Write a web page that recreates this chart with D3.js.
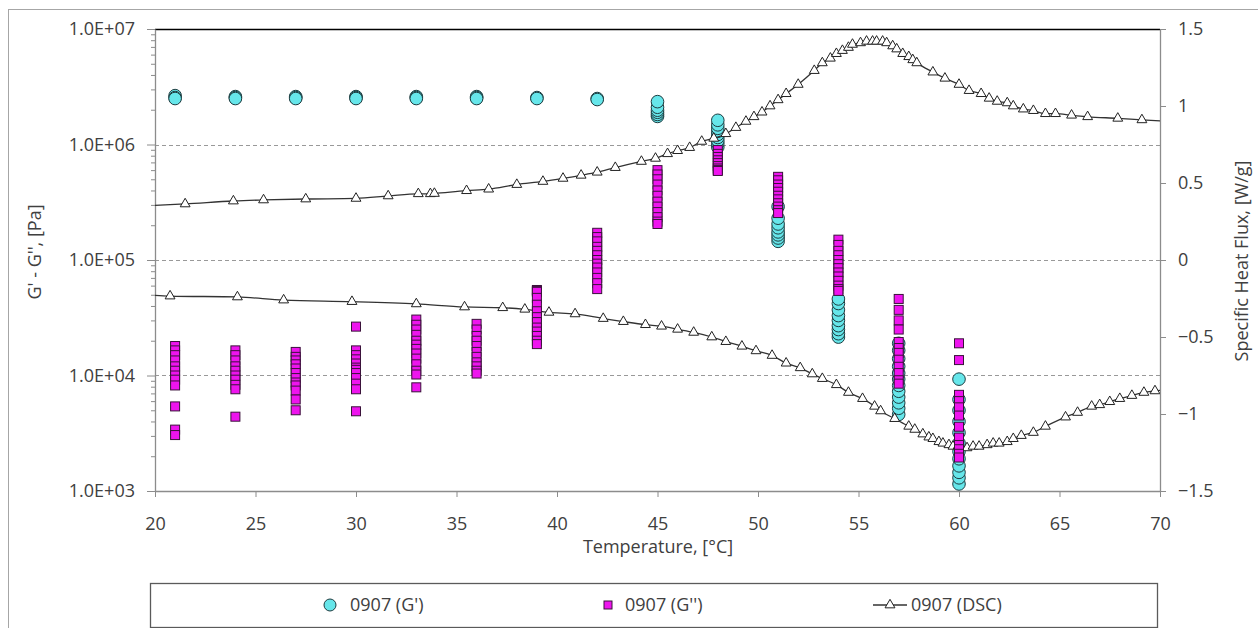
<!DOCTYPE html>
<html>
<head>
<meta charset="utf-8">
<script src="https://cdn.jsdelivr.net/npm/d3@7"></script>
<style>
  html, body { margin:0; padding:0; background:#fff; }
  svg { display:block; font-family:'Open Sans', sans-serif; }
</style>
</head>
<body>
<svg id="chart" width="1258" height="628"></svg>
<script>
/* ---------- data ---------- */
const rheoTemps = [21, 24, 27, 30, 33, 36, 39, 42, 45, 48, 51, 54, 57, 60];

// G' (Pa) per temperature, in drawing order
const gPrime = [
  [2.65e6, 2.55e6, 2.5e6],
  [2.6e6, 2.55e6, 2.5e6],
  [2.6e6, 2.55e6, 2.5e6],
  [2.6e6, 2.55e6, 2.5e6],
  [2.6e6, 2.55e6, 2.5e6],
  [2.6e6, 2.55e6, 2.5e6],
  [2.55e6, 2.5e6],
  [2.5e6, 2.45e6],
  [1.75e6, 1.82e6, 1.9e6, 1.98e6, 2.1e6, 2.35e6],
  [0.95e6, 1.02e6, 1.08e6, 1.15e6, 1.22e6, 1.3e6, 1.38e6, 1.48e6, 1.62e6],
  [2.9e5, 1.45e5, 1.55e5, 1.65e5, 1.75e5, 1.9e5, 2.05e5, 2.3e5],
  [2.15e4, 2.3e4, 2.5e4, 2.7e4, 3.0e4, 3.3e4, 3.7e4, 4.2e4, 4.6e4],
  [4.6e3, 5.2e3, 5.8e3, 6.5e3, 7.3e3, 8.2e3, 9.3e3, 1.05e4, 1.2e4, 1.4e4, 1.65e4, 1.9e4],
  [1.15e3, 1.3e3, 1.45e3, 1.65e3, 1.9e3, 2.2e3, 2.6e3, 3.2e3, 4.0e3, 5.0e3, 6.2e3, 9.3e3]
];

// G'' (Pa) per temperature
const gDouble = [
  [1.8e4, 1.65e4, 1.5e4, 1.35e4, 1.2e4, 1.1e4, 1.0e4, 9.2e3, 8.2e3, 5.4e3, 3.4e3, 3.05e3],
  [1.65e4, 1.5e4, 1.35e4, 1.2e4, 1.1e4, 1.0e4, 9.2e3, 8.3e3, 7.6e3, 4.4e3],
  [1.6e4, 1.45e4, 1.35e4, 1.25e4, 1.15e4, 1.05e4, 9.5e3, 8.7e3, 8.2e3, 7.4e3, 6.2e3, 5.0e3],
  [2.65e4, 1.65e4, 1.5e4, 1.38e4, 1.27e4, 1.17e4, 1.12e4, 1.05e4, 9.5e3, 8.5e3, 7.6e3, 4.9e3],
  [3.05e4, 2.75e4, 2.5e4, 2.25e4, 2.0e4, 1.85e4, 1.7e4, 1.55e4, 1.4e4, 1.25e4, 1.1e4, 1.02e4, 7.9e3],
  [2.8e4, 2.5e4, 2.2e4, 2.0e4, 1.8e4, 1.6e4, 1.45e4, 1.3e4, 1.2e4, 1.1e4, 1.04e4],
  [5.5e4, 5.4e4, 5.3e4, 4.7e4, 4.1e4, 3.6e4, 3.2e4, 2.9e4, 2.6e4, 2.4e4, 2.2e4, 2.0e4, 1.87e4],
  [1.72e5, 1.58e5, 1.45e5, 1.3e5, 1.2e5, 1.1e5, 1.0e5, 9.3e4, 8.6e4, 7.8e4, 7.0e4, 6.3e4, 5.6e4],
  [6.0e5, 5.5e5, 5.0e5, 4.5e5, 4.0e5, 3.6e5, 3.2e5, 2.9e5, 2.6e5, 2.35e5, 2.15e5, 2.05e5],
  [8.95e5, 8.3e5, 7.8e5, 7.3e5, 6.9e5, 6.5e5, 6.2e5, 6.0e5, 5.9e5],
  [5.25e5, 4.9e5, 4.5e5, 4.2e5, 3.9e5, 3.6e5, 3.35e5, 3.1e5, 2.9e5, 2.7e5, 2.55e5],
  [1.5e5, 1.35e5, 1.2e5, 1.1e5, 1.0e5, 9.2e4, 8.5e4, 7.8e4, 7.2e4, 6.6e4, 6.0e4, 5.6e4, 5.4e4],
  [4.6e4, 3.7e4, 3.0e4, 2.5e4, 1.95e4, 1.73e4, 1.57e4, 1.37e4, 1.19e4, 1.05e4, 9.1e3, 8.5e3],
  [1.9e4, 1.36e4, 6.8e3, 6.0e3, 5.3e3, 4.5e3, 3.6e3, 2.9e3, 2.5e3, 2.3e3, 2.1e3, 1.95e3]
];

// DSC upper trace (heating): temperature (°C) and heat flux (W/g)
const dscUpT = [19.5, 21.5, 23.9, 25.4, 27.5, 30.0, 31.6, 33.1, 33.7, 33.9, 35.5, 36.6, 38.0, 39.3, 40.3,
  41.2, 42.0, 42.9, 44.2, 44.9, 45.5, 46.0, 46.6, 47.2, 47.8, 48.4, 48.9, 49.4, 49.8, 50.2, 50.6, 51.0,
  51.4, 52.0, 52.8, 53.2, 53.6, 53.9, 54.2, 54.5, 54.7, 55.1, 55.4, 55.7, 55.9, 56.2, 56.4, 56.7, 56.9,
  57.2, 57.5, 57.7, 57.9, 58.7, 59.3, 60.0, 60.5, 61.1, 61.5, 61.9, 62.4, 62.7, 63.2, 63.7, 64.3, 64.8,
  65.6, 66.4, 67.9, 69.1, 70.5];
const dscUpV = [0.352, 0.364, 0.383, 0.39, 0.396, 0.40, 0.416, 0.43, 0.43, 0.432, 0.45, 0.46, 0.49, 0.51, 0.53,
  0.55, 0.57, 0.60, 0.64, 0.66, 0.69, 0.71, 0.73, 0.77, 0.79, 0.82, 0.86, 0.90, 0.93, 0.96, 1.00, 1.04,
  1.08, 1.14, 1.23, 1.28, 1.31, 1.34, 1.36, 1.38, 1.40, 1.41, 1.42, 1.42, 1.42, 1.42, 1.41, 1.39, 1.37,
  1.34, 1.32, 1.30, 1.28, 1.22, 1.18, 1.14, 1.10, 1.08, 1.05, 1.03, 1.02, 1.00, 0.98, 0.97, 0.95, 0.95,
  0.94, 0.93, 0.92, 0.91, 0.90];

// DSC lower trace (cooling)
const dscLoT = [19.5, 20.75, 24.1, 26.4, 29.8, 33.0, 35.4, 37.3, 38.4, 39.6, 40.9, 42.3, 43.3, 44.4, 45.2,
  46.0, 46.8, 47.7, 48.4, 49.2, 49.9, 50.7, 51.4, 52.1, 52.7, 53.2, 53.9, 54.5, 55.2, 55.8, 56.1, 56.8,
  57.5, 57.8, 58.2, 58.5, 58.7, 59.0, 59.2, 59.5, 59.7, 59.95, 60.4, 60.7, 61.0, 61.4, 61.7, 62.0, 62.4,
  62.7, 63.1, 63.7, 64.3, 65.3, 65.9, 66.6, 67.0, 67.5, 68.0, 68.6, 69.2, 69.75, 70.5];
const dscLoV = [-0.225, -0.234, -0.24, -0.26, -0.27, -0.285, -0.305, -0.31, -0.32, -0.34, -0.35, -0.38, -0.40, -0.42, -0.43,
  -0.45, -0.47, -0.50, -0.53, -0.56, -0.59, -0.62, -0.67, -0.70, -0.74, -0.77, -0.81, -0.86, -0.90, -0.95, -0.98, -1.03,
  -1.08, -1.10, -1.13, -1.15, -1.16, -1.18, -1.19, -1.20, -1.21, -1.21, -1.22, -1.21, -1.21, -1.20, -1.19, -1.19, -1.18,
  -1.16, -1.14, -1.12, -1.08, -1.02, -0.99, -0.95, -0.94, -0.92, -0.90, -0.88, -0.86, -0.85, -0.84];

const xTicks = [20, 25, 30, 35, 40, 45, 50, 55, 60, 65, 70];
const leftTicks = [1e3, 1e4, 1e5, 1e6, 1e7];
const leftTickLabels = ['1.0E+03', '1.0E+04', '1.0E+05', '1.0E+06', '1.0E+07'];
const gridValues = [1e4, 1e5, 1e6];
const rightTicks = [-1.5, -1, -0.5, 0, 0.5, 1, 1.5];
const seriesNames = ["0907 (G')", "0907 (G'')", "0907 (DSC)"];

/* ---------- layout ---------- */
const svg = d3.select('#chart');
const plot = { left:155, right:1160, top:29, bottom:491 };
const TEXT = '#404040', AXIS = '#8c8c8c';
const CYAN = '#66e6ea', MAGENTA = '#ee14ee';

const x  = d3.scaleLinear().domain([20, 70]).range([plot.left, plot.right]);
const yL = d3.scaleLog().domain([1e3, 1e7]).range([plot.bottom, plot.top]);
const yR = d3.scaleLinear().domain([-1.5, 1.5]).range([plot.bottom, plot.top]);

// outer chart frame (runs off the right/bottom edge like the source)
svg.append('rect').attr('x', 8.5).attr('y', 9.5).attr('width', 1300).attr('height', 700)
  .attr('fill', 'none').attr('stroke', '#a6a6a6');

svg.append('defs').append('clipPath').attr('id', 'plotclip')
  .append('rect').attr('x', plot.left).attr('y', plot.top)
  .attr('width', plot.right - plot.left).attr('height', plot.bottom - plot.top);

// gridlines
svg.append('g').selectAll('line').data(gridValues).join('line')
  .attr('x1', plot.left).attr('x2', plot.right)
  .attr('y1', d => Math.round(yL(d)) + 0.5).attr('y2', d => Math.round(yL(d)) + 0.5)
  .attr('stroke', '#999').attr('stroke-dasharray', '4,3');

// top border
svg.append('line').attr('x1', plot.left).attr('x2', plot.right)
  .attr('y1', plot.top + 0.5).attr('y2', plot.top + 0.5).attr('stroke', '#000').attr('stroke-width', 1.3);

/* ---------- axes ---------- */
function styleAxis(g){
  g.select('.domain').attr('stroke', AXIS).attr('stroke-width', 1.3);
  g.selectAll('.tick line').attr('stroke', AXIS);
  g.selectAll('text').attr('fill', TEXT).style('font-size', '18px').style('font-family', "'Open Sans', sans-serif");
}

const minorVals = [];
for (let e = 3; e < 7; e++) for (let m = 2; m <= 9; m++) minorVals.push(m * Math.pow(10, e));

svg.append('g').attr('transform', `translate(${plot.left},0)`)
  .call(d3.axisLeft(yL).tickValues(minorVals).tickSize(4).tickFormat('').tickSizeOuter(0))
  .call(g => { g.select('.domain').remove(); g.selectAll('.tick line').attr('stroke', AXIS); });

svg.append('g').attr('transform', `translate(${plot.left},0)`)
  .call(d3.axisLeft(yL).tickValues(leftTicks).tickSize(8).tickPadding(12).tickSizeOuter(0)
    .tickFormat((d, i) => leftTickLabels[i]))
  .call(styleAxis);

svg.append('g').attr('transform', `translate(${plot.right},0)`)
  .call(d3.axisRight(yR).tickValues(rightTicks).tickSize(6).tickPadding(12).tickSizeOuter(0)
    .tickFormat(d => d3.format('')(d)))
  .call(styleAxis);

svg.append('g').attr('transform', `translate(0,${plot.bottom})`)
  .call(d3.axisBottom(x).tickValues(xTicks).tickSize(6).tickPadding(20).tickSizeOuter(0))
  .call(styleAxis);

// axis titles
svg.append('text').attr('x', 658).attr('y', 553).attr('text-anchor', 'middle')
  .attr('fill', TEXT).style('font-size', '18px').text('Temperature, [°C]');
svg.append('text').attr('transform', 'translate(41,252) rotate(-90)').attr('text-anchor', 'middle')
  .attr('fill', TEXT).style('font-size', '18px').text("G' - G'', [Pa]");
svg.append('text').attr('transform', 'translate(1248,261) rotate(-90)').attr('text-anchor', 'middle')
  .attr('fill', TEXT).style('font-size', '18px').text('Specific Heat Flux, [W/g]');

/* ---------- marks ---------- */
const gpPts = rheoTemps.flatMap((t, i) => gPrime[i].map(v => ({ t, v })));
const gdPts = rheoTemps.flatMap((t, i) => gDouble[i].map(v => ({ t, v })));
const upPts = dscUpT.map((t, i) => ({ t, v: dscUpV[i] }));
const loPts = dscLoT.map((t, i) => ({ t, v: dscLoV[i] }));

svg.append('g').selectAll('circle').data(gpPts).join('circle')
  .attr('cx', d => x(d.t)).attr('cy', d => yL(d.v)).attr('r', 6.3)
  .attr('fill', CYAN).attr('stroke', '#1e3c40').attr('stroke-width', 1);

const dscG = svg.append('g').attr('clip-path', 'url(#plotclip)');
const line = d3.line().x(d => x(d.t)).y(d => yR(d.v)).curve(d3.curveMonotoneX);
const tri = d3.symbol().type(d3.symbolTriangle).size(42);
[upPts, loPts].forEach(pts => {
  dscG.append('path').datum(pts).attr('d', line)
    .attr('fill', 'none').attr('stroke', '#333').attr('stroke-width', 1.3);
  dscG.append('g').selectAll('path').data(pts).join('path')
    .attr('d', tri).attr('transform', d => `translate(${x(d.t)},${yR(d.v)})`)
    .attr('fill', '#fff').attr('stroke', '#222').attr('stroke-width', 1);
});

const sq = 9;
svg.append('g').selectAll('rect').data(gdPts).join('rect')
  .attr('x', d => x(d.t) - sq / 2).attr('y', d => yL(d.v) - sq / 2)
  .attr('width', sq).attr('height', sq)
  .attr('fill', MAGENTA).attr('stroke', '#3a123a').attr('stroke-width', 1);

/* ---------- legend ---------- */
const leg = svg.append('g');
leg.append('rect').attr('x', 150.5).attr('y', 583.5).attr('width', 1007).attr('height', 44)
  .attr('fill', '#fff').attr('stroke', '#5a5a5a').attr('stroke-width', 1.3);
const ly = 605;
leg.append('circle').attr('cx', 330).attr('cy', ly).attr('r', 6)
  .attr('fill', CYAN).attr('stroke', '#1e3c40');
leg.append('rect').attr('x', 604).attr('y', ly - 4).attr('width', 8).attr('height', 8)
  .attr('fill', MAGENTA).attr('stroke', '#3a123a');
leg.append('line').attr('x1', 873).attr('x2', 907).attr('y1', ly).attr('y2', ly)
  .attr('stroke', '#333').attr('stroke-width', 1.3);
leg.append('path').attr('d', tri).attr('transform', `translate(890,${ly})`)
  .attr('fill', '#fff').attr('stroke', '#222');
leg.selectAll('text.lab').data(seriesNames).join('text').attr('class', 'lab')
  .attr('x', (d, i) => [350, 625, 911][i]).attr('y', ly).attr('dy', '0.35em')
  .attr('fill', TEXT).style('font-size', '18px').text(d => d);
</script>
</body>
</html>
